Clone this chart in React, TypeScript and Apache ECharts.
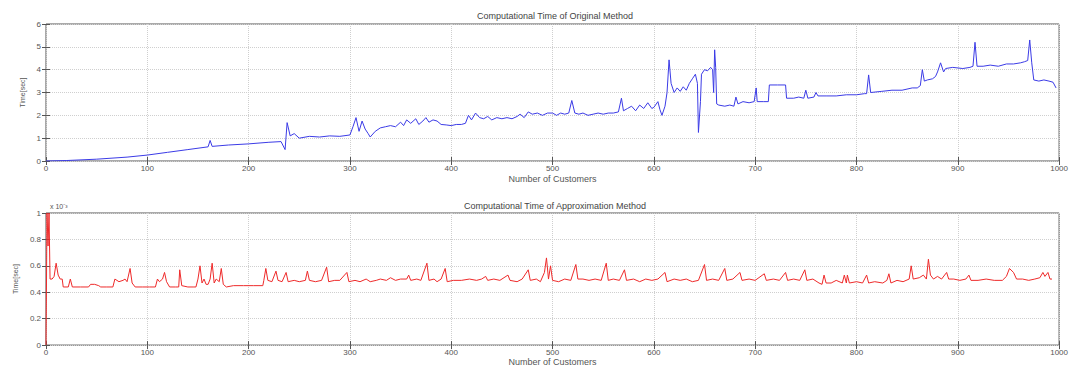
import React, { useEffect, useRef } from "react";
import * as echarts from "echarts";

const xTicks = [0, 100, 200, 300, 400, 500, 600, 700, 800, 900, 1000];
const topYTicks = [0, 1, 2, 3, 4, 5, 6];
const bottomYTicks = [0, 0.2, 0.4, 0.6, 0.8, 1];

const topTitle = "Computational Time of Original Method";
const bottomTitle = "Computational Time of Approximation Method";
const xName = "Number of Customers";
const yName = "Time[sec]";
const exponentLabel = "x 10\u207B\u00B3";

const origX = [0,20,50,80,100,120,140,160,162,164,180,200,220,232,236,238,241,245,250,260,270,280,290,300,303,306,309,312,315,318,320,325,330,335,340,345,350,353,356,360,365,368,372,375,378,382,386,390,395,400,405,410,414,417,420,424,428,432,436,440,445,450,455,460,465,468,472,476,480,485,490,495,500,504,508,512,516,519,522,526,530,535,540,545,550,555,560,565,568,570,574,578,582,586,590,594,598,600,604,606,608,611,613,615,617,620,623,626,629,632,635,638,641,643,644,646,647,650,653,656,658,659,660,661,662,664,670,675,679,681,683,688,694,699,701,702,708,713,714,722,730,731,738,743,748,750,752,758,760,762,770,780,790,800,808,810,812,814,825,835,845,855,860,863,865,867,870,875,878,880,883,886,888,895,905,912,915,917,919,925,932,940,948,955,962,966,969,971,973,975,980,985,990,994,997];
const origY = [0,0.02,0.08,0.17,0.26,0.38,0.5,0.62,0.9,0.64,0.7,0.75,0.82,0.85,0.5,1.68,1.1,1.2,1.0,1.08,1.05,1.1,1.08,1.14,1.5,1.9,1.3,1.75,1.4,1.2,1.05,1.3,1.45,1.5,1.55,1.5,1.7,1.55,1.8,1.65,1.85,1.6,1.75,1.9,1.7,1.8,1.75,1.6,1.58,1.55,1.6,1.6,1.65,2.0,1.8,2.1,1.9,1.85,1.95,1.8,1.9,1.85,1.9,1.85,1.95,2.05,1.9,2.15,2.05,2.1,2.0,2.1,2.1,2.0,2.1,2.05,2.1,2.65,2.1,2.05,2.1,2.0,2.05,2.1,2.05,2.1,2.1,2.15,2.75,2.2,2.3,2.4,2.2,2.45,2.3,2.55,2.3,2.35,2.6,2.25,2.0,2.4,3.0,4.43,3.4,3.0,3.2,3.05,3.25,3.1,3.4,3.6,3.8,3.4,1.25,2.6,3.8,4.0,3.95,4.1,4.0,3.0,4.87,4.1,2.5,2.45,2.4,2.45,2.4,2.8,2.5,2.6,2.55,2.6,3.2,2.6,2.6,2.6,3.33,3.33,3.33,2.75,2.75,2.8,2.75,3.1,2.75,2.8,3.0,2.85,2.85,2.85,2.9,2.9,2.95,2.95,3.77,3.0,3.05,3.1,3.1,3.2,3.2,3.3,4.0,3.5,3.55,3.6,3.7,3.9,4.3,3.9,4.05,4.1,4.05,4.1,4.15,5.2,4.15,4.15,4.2,4.15,4.25,4.25,4.3,4.35,4.4,5.3,4.3,3.55,3.5,3.55,3.5,3.45,3.2];

const approxX = [0,1,2,3,4,6,8,10,12,14,16,17,22,24,26,34,42,44,48,52,54,60,66,68,72,76,78,80,83,85,88,95,102,108,110,112,115,117,119,122,128,131,132,134,140,146,148,150,152,154,156,158,160,162,164,166,168,171,173,175,178,185,195,205,214,215,217,219,223,227,229,233,237,239,245,250,256,258,260,266,272,277,279,285,290,297,299,305,310,316,320,326,330,336,340,345,350,356,358,360,366,370,376,378,383,386,390,394,396,402,410,418,425,430,434,436,442,448,456,458,465,470,476,478,484,488,492,494,496,498,500,506,512,518,523,525,530,536,542,548,553,555,560,566,571,573,580,586,592,598,604,611,613,620,626,632,638,644,650,652,658,664,670,672,678,685,687,694,700,709,711,718,724,730,732,738,744,749,751,757,763,766,768,770,775,780,786,788,790,791,793,800,806,810,812,818,826,830,832,834,840,846,852,854,856,862,866,869,871,873,876,880,884,889,891,896,902,908,911,913,920,928,936,944,948,951,955,958,964,970,976,981,984,986,989,991,993];
const approxY = [0,1.0,0.75,1.0,0.5,0.5,0.52,0.62,0.53,0.5,0.5,0.44,0.44,0.5,0.44,0.44,0.44,0.46,0.46,0.45,0.44,0.44,0.44,0.5,0.48,0.49,0.5,0.48,0.58,0.47,0.44,0.44,0.44,0.44,0.5,0.48,0.5,0.55,0.48,0.44,0.44,0.44,0.57,0.45,0.44,0.44,0.44,0.5,0.6,0.47,0.5,0.46,0.46,0.5,0.62,0.47,0.5,0.48,0.58,0.46,0.44,0.45,0.45,0.45,0.45,0.49,0.58,0.49,0.48,0.56,0.49,0.48,0.55,0.48,0.49,0.48,0.49,0.56,0.49,0.48,0.49,0.59,0.48,0.49,0.49,0.55,0.48,0.49,0.48,0.5,0.48,0.49,0.5,0.49,0.51,0.49,0.5,0.5,0.53,0.49,0.5,0.49,0.62,0.49,0.5,0.48,0.5,0.58,0.48,0.49,0.49,0.5,0.49,0.5,0.52,0.49,0.5,0.49,0.53,0.49,0.48,0.5,0.57,0.49,0.5,0.48,0.55,0.66,0.5,0.6,0.49,0.48,0.5,0.49,0.61,0.5,0.5,0.49,0.5,0.49,0.62,0.49,0.5,0.49,0.57,0.49,0.5,0.48,0.5,0.49,0.5,0.55,0.48,0.5,0.49,0.5,0.48,0.49,0.61,0.49,0.5,0.49,0.58,0.49,0.5,0.55,0.49,0.5,0.49,0.54,0.49,0.5,0.49,0.55,0.49,0.5,0.49,0.57,0.49,0.5,0.47,0.46,0.53,0.47,0.47,0.49,0.47,0.53,0.47,0.53,0.47,0.48,0.47,0.53,0.47,0.48,0.47,0.49,0.54,0.47,0.49,0.48,0.5,0.6,0.5,0.51,0.53,0.5,0.65,0.53,0.5,0.52,0.5,0.55,0.5,0.5,0.49,0.5,0.53,0.49,0.49,0.5,0.49,0.49,0.52,0.58,0.55,0.5,0.5,0.49,0.5,0.51,0.55,0.52,0.55,0.5,0.5];

const TEXT = "#555";
const GRIDLINE = "#cfcfcf";
const BOX = "#555";

function fmtBottom(v: number) {
  if (v === 0) return "0";
  if (v === 1) return "1";
  return v.toFixed(1);
}

export default function App() {
  const ref = useRef<HTMLDivElement>(null);
  useEffect(() => {
    document.body.style.margin = "0";
    if (!ref.current) return;
    const chart = echarts.init(ref.current, null, { renderer: "svg" });
    const font = "Liberation Sans, Arial, sans-serif";
    const grids = [
      { left: 46, right: 7, top: 24, height: 137, show: true, borderColor: BOX, borderWidth: 1 },
      { left: 46, right: 7, top: 213, height: 137, show: true, borderColor: BOX, borderWidth: 1 },
    ];
    const mainX = (gi: number, gap: number) => ({
      type: "value",
      gridIndex: gi,
      min: xTicks[0],
      max: xTicks[xTicks.length - 1],
      interval: 100,
      name: xName,
      nameLocation: "middle",
      nameGap: gap,
      nameTextStyle: { fontSize: 9, color: TEXT, fontFamily: font },
      axisLine: { show: false },
      axisTick: { show: true, inside: true, length: 4, lineStyle: { color: BOX } },
      axisLabel: { fontSize: 8, color: TEXT, margin: 3, fontFamily: font, formatter: (v: number) => String(v) },
      splitLine: { show: true, lineStyle: { type: "dotted", color: GRIDLINE, width: 1 } },
    });
    const topX = (gi: number) => ({
      type: "value",
      gridIndex: gi,
      position: "top",
      min: xTicks[0],
      max: xTicks[xTicks.length - 1],
      interval: 100,
      axisLine: { show: false },
      axisTick: { show: true, inside: true, length: 4, lineStyle: { color: BOX } },
      axisLabel: { show: false },
      splitLine: { show: false },
    });
    const mainY = (gi: number, ticks: number[], interval: number, fmt: (v: number) => string, gap: number) => ({
      type: "value",
      gridIndex: gi,
      min: ticks[0],
      max: ticks[ticks.length - 1],
      interval,
      name: yName,
      nameLocation: "middle",
      nameGap: gap,
      nameTextStyle: { fontSize: 7, color: TEXT, fontFamily: font },
      axisLine: { show: false },
      axisTick: { show: true, inside: true, length: 4, lineStyle: { color: BOX } },
      axisLabel: { fontSize: 8, color: TEXT, margin: 5, fontFamily: font, formatter: fmt },
      splitLine: { show: true, lineStyle: { type: "dotted", color: GRIDLINE, width: 1 } },
    });
    const rightY = (gi: number, ticks: number[], interval: number) => ({
      type: "value",
      gridIndex: gi,
      position: "right",
      min: ticks[0],
      max: ticks[ticks.length - 1],
      interval,
      axisLine: { show: false },
      axisTick: { show: true, inside: true, length: 4, lineStyle: { color: BOX } },
      axisLabel: { show: false },
      splitLine: { show: false },
    });
    chart.setOption({
      animation: false,
      backgroundColor: "#fff",
      title: [
        { text: topTitle, left: 555, top: 11, padding: 0, textAlign: "center", textStyle: { fontSize: 9, fontWeight: "normal", color: "#444", fontFamily: font } },
        { text: bottomTitle, left: 555, top: 201, padding: 0, textAlign: "center", textStyle: { fontSize: 9, fontWeight: "normal", color: "#444", fontFamily: font } },
      ],
      grid: grids,
      xAxis: [mainX(0, 13), topX(0), mainX(1, 11), topX(1)],
      yAxis: [
        mainY(0, topYTicks, 1, (v: number) => String(v), 16),
        rightY(0, topYTicks, 1),
        mainY(1, bottomYTicks, 0.2, fmtBottom, 26),
        rightY(1, bottomYTicks, 0.2),
      ],
      graphic: [
        { type: "text", left: 50, top: 203, style: { text: exponentLabel, fontSize: 7, fill: TEXT, fontFamily: font } },
      ],
      series: [
        {
          type: "line",
          xAxisIndex: 0,
          yAxisIndex: 0,
          data: origX.map((x, i) => [x, origY[i]]),
          showSymbol: false,
          lineStyle: { color: "#3b3be6", width: 1 },
          itemStyle: { color: "#3b3be6" },
        },
        {
          type: "line",
          xAxisIndex: 2,
          yAxisIndex: 2,
          data: approxX.map((x, i) => [x, approxY[i]]),
          showSymbol: false,
          lineStyle: { color: "#ee2a2a", width: 1 },
          itemStyle: { color: "#ee2a2a" },
        },
      ],
    });
    return () => chart.dispose();
  }, []);
  return <div ref={ref} style={{ width: 1071, height: 367 }} />;
}
